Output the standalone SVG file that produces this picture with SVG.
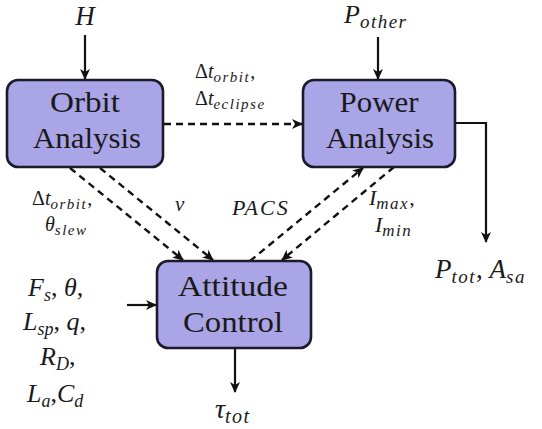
<svg xmlns="http://www.w3.org/2000/svg" width="542" height="429" viewBox="0 0 542 429">
<defs>
<marker id="ah" viewBox="-11 -6 12 12" refX="0" refY="0" markerWidth="12" markerHeight="12" markerUnits="userSpaceOnUse" orient="auto">
<path d="M1,0 L-10,-5 L-7,0 L-10,5 Z" fill="#111"/>
</marker>
</defs>
<style>
.box{fill:#aaa5e6;stroke:#1b1b2b;stroke-width:2.6}
.bt{font-size:30px;fill:#1a1a1a;text-anchor:middle}
.m{font-style:italic;fill:#1a1a1a}
.r{font-style:normal}
.sub{letter-spacing:1.5px}
.solid{fill:none;stroke:#111;stroke-width:2.2}
.dash{fill:none;stroke:#111;stroke-width:2.4;stroke-dasharray:7 5}
</style>
<rect width="542" height="429" fill="#fff"/>
<g id="connectors">
<line class="solid" x1="85" y1="35" x2="85" y2="79" marker-end="url(#ah)"/>
<line class="solid" x1="378" y1="37" x2="378" y2="79" marker-end="url(#ah)"/>
<polyline class="solid" points="455,123 486,123 486,242" marker-end="url(#ah)"/>
<line class="solid" x1="127" y1="305" x2="156" y2="305" marker-end="url(#ah)"/>
<line class="solid" x1="235" y1="348" x2="235" y2="392" marker-end="url(#ah)"/>
<line class="dash" x1="164" y1="124" x2="302" y2="124" marker-end="url(#ah)"/>
<line class="dash" x1="70" y1="168" x2="183" y2="260" marker-end="url(#ah)"/>
<line class="dash" x1="100" y1="168" x2="213" y2="260" marker-end="url(#ah)"/>
<line class="dash" x1="250" y1="261" x2="363" y2="168" marker-end="url(#ah)"/>
<line class="dash" x1="394" y1="167" x2="282" y2="260" marker-end="url(#ah)"/>
</g>
<g id="orbit" font-family="Liberation Serif, serif">
<rect class="box" x="7" y="80" width="156" height="87" rx="11"/>
<text class="bt" x="85" y="112" textLength="70" lengthAdjust="spacingAndGlyphs">Orbit</text>
<text class="bt" x="87" y="148" textLength="108" lengthAdjust="spacingAndGlyphs">Analysis</text>
</g>
<g id="power" font-family="Liberation Serif, serif">
<rect class="box" x="303" y="80" width="152" height="87" rx="11"/>
<text class="bt" x="379" y="112" textLength="79" lengthAdjust="spacingAndGlyphs">Power</text>
<text class="bt" x="380" y="148" textLength="108" lengthAdjust="spacingAndGlyphs">Analysis</text>
</g>
<g id="attitude" font-family="Liberation Serif, serif">
<rect class="box" x="157" y="261" width="154" height="87" rx="11"/>
<text class="bt" x="233" y="296" textLength="110" lengthAdjust="spacingAndGlyphs">Attitude</text>
<text class="bt" x="233" y="332" textLength="100" lengthAdjust="spacingAndGlyphs">Control</text>
</g>
<g id="labels" font-family="Liberation Serif, serif">
<text class="m" x="85" y="25" font-size="27" text-anchor="middle">H</text>
<text class="m" x="344" y="23" font-size="26">P<tspan class="sub" font-size="19" dy="5">other</tspan></text>
<text class="m" x="195" y="78" font-size="20"><tspan class="r">Δ</tspan>t<tspan class="sub" font-size="15" dy="4">orbit</tspan><tspan dy="-4" class="r">,</tspan></text>
<text class="m" x="195" y="105" font-size="20"><tspan class="r">Δ</tspan>t<tspan class="sub" font-size="15" dy="4">eclipse</tspan></text>
<text class="m" x="32" y="205" font-size="20"><tspan class="r">Δ</tspan>t<tspan class="sub" font-size="15" dy="4">orbit</tspan><tspan dy="-4" class="r">,</tspan></text>
<text class="m" x="45" y="231" font-size="20">θ<tspan class="sub" font-size="15" dy="4">slew</tspan></text>
<text class="m" x="175" y="211" font-size="21">ν</text>
<text class="m" x="232" y="215" font-size="22" letter-spacing="2">PACS</text>
<text class="m" x="369" y="205" font-size="22">I<tspan class="sub" font-size="17" dy="4">max</tspan><tspan dy="-4" class="r">,</tspan></text>
<text class="m" x="375" y="232" font-size="22">I<tspan class="sub" font-size="17" dy="4">min</tspan></text>
<text class="m" x="28" y="296" font-size="26">F<tspan font-size="18" dy="5">s</tspan><tspan dy="-5" class="r">, </tspan>θ<tspan class="r">,</tspan></text>
<text class="m" x="23" y="330" font-size="26">L<tspan font-size="18" dy="5">sp</tspan><tspan dy="-5" class="r">, </tspan>q<tspan class="r">,</tspan></text>
<text class="m" x="40" y="365" font-size="26">R<tspan font-size="18" dy="5">D</tspan><tspan dy="-5" class="r">,</tspan></text>
<text class="m" x="27" y="402" font-size="26">L<tspan font-size="18" dy="5">a</tspan><tspan dy="-5" class="r">,</tspan>C<tspan font-size="18" dy="5">d</tspan></text>
<text class="m" x="215" y="418" font-size="28">τ<tspan class="sub" font-size="20" dy="5">tot</tspan></text>
<text class="m" x="435" y="278" font-size="27">P<tspan class="sub" font-size="19" dy="5">tot</tspan><tspan dy="-5" class="r">,  </tspan>A<tspan class="sub" font-size="19" dy="5">sa</tspan></text>
</g>
</svg>
